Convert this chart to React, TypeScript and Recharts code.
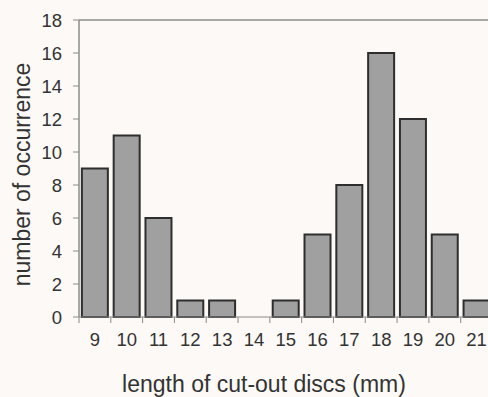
import React from 'react';
import { BarChart, Bar, XAxis, YAxis, ReferenceLine } from 'recharts';

const lengths = ['9', '10', '11', '12', '13', '14', '15', '16', '17', '18', '19', '20', '21'];
const counts = [9, 11, 6, 1, 1, 0, 1, 5, 8, 16, 12, 5, 1];
const yTicks = [0, 2, 4, 6, 8, 10, 12, 14, 16, 18];

const data = lengths.map((l, i) => ({ length: l, count: counts[i] }));

const FONT = '"Liberation Sans", Arial, sans-serif';
const TEXT = '#333333';
const AXIS = '#8c8c8c';

const XTick = (props: any) => {
  const { x, y, payload } = props;
  const half = payload && payload.offset ? payload.offset : 15.85;
  return (
    <g>
      <line x1={x - half} x2={x - half} y1={y} y2={y + 6} stroke={AXIS} strokeWidth={1} />
      <text x={x} y={y + 29} textAnchor="middle" fontSize={18.5} fontFamily={FONT} fill={TEXT}>
        {payload.value}
      </text>
    </g>
  );
};

export default function App() {
  return (
    <div style={{ position: 'absolute', left: 0, top: 0, width: 488, height: 397, overflow: 'hidden', background: '#fcf9f6' }}>
      <BarChart
        width={500}
        height={397}
        data={data}
        margin={{ top: 20, right: 7.5, bottom: 50, left: 0 }}
        barCategoryGap="9%"
      >
        <ReferenceLine y={18} stroke={AXIS} strokeWidth={1.5} />
        <XAxis
          dataKey="length"
          height={30}
          tickLine={false}
          tickSize={0}
          tickMargin={0}
          axisLine={{ stroke: AXIS, strokeWidth: 1 }}
          tick={<XTick />}
          interval={0}
          label={() => (
            <text x={264} y={392} textAnchor="middle" fontSize={23} fontFamily={FONT} fill={TEXT}>
              length of cut-out discs (mm)
            </text>
          )}
        />
        <YAxis
          width={79}
          domain={[0, 18]}
          ticks={yTicks}
          interval={0}
          tickSize={6}
          tickMargin={11}
          tickLine={{ stroke: AXIS }}
          axisLine={{ stroke: AXIS, strokeWidth: 1.5 }}
          tick={{ fontSize: 18.5, fontFamily: FONT, fill: TEXT }}
          label={() => (
            <text
              x={30}
              y={174.5}
              transform="rotate(-90 30 174.5)"
              textAnchor="middle"
              fontSize={23}
              fontFamily={FONT}
              fill={TEXT}
            >
              number of occurrence
            </text>
          )}
        />
        <Bar dataKey="count" fill="#a0a0a0" stroke="#2e2e2e" strokeWidth={2} isAnimationActive={false} />
      </BarChart>
    </div>
  );
}
